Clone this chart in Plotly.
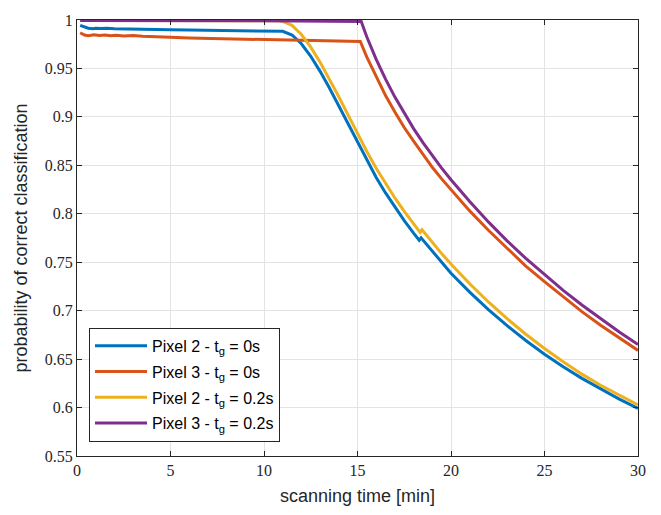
import plotly.graph_objects as go

# scanning time [min] and classification probability for each configuration
t_pix2_0 = [0.17, 0.35, 0.6, 0.85, 1.0, 1.3, 1.6, 2.0, 3.0, 4.0, 5.0, 6.0, 7.0, 8.0, 9.0, 10.0,
            10.5, 11.0, 11.5, 12.0, 12.5, 13.0, 13.5, 14.0, 14.5, 15.0, 15.5, 16.0, 16.5, 17.0,
            17.5, 18.0, 18.3, 18.4, 19.0, 19.5, 20.0, 21.0, 22.0, 23.0, 24.0, 25.0, 26.0, 27.0,
            28.0, 29.0, 30.0]
p_pix2_0 = [0.9945, 0.9935, 0.9915, 0.991, 0.9915, 0.9912, 0.9915, 0.991, 0.9905, 0.9903, 0.990,
            0.9898, 0.9895, 0.9893, 0.989, 0.9888, 0.9887, 0.9883,
            0.9845, 0.9755, 0.9625, 0.947, 0.9298, 0.9113, 0.8923, 0.8733, 0.8548, 0.8375, 0.8215,
            0.8068, 0.793, 0.780, 0.7727, 0.7752, 0.7611, 0.7496, 0.7386, 0.7191, 0.7011, 0.6845,
            0.6692, 0.6551, 0.6421, 0.6301, 0.619, 0.6087, 0.5991]

t_pix3_0 = [0.17, 0.4, 0.6, 0.9, 1.2, 1.5, 1.8, 2.1, 2.5, 3.0, 3.5, 4.0, 5.0, 6.0, 7.0, 8.0, 9.0,
            10.0, 11.0, 12.0, 13.0, 14.0, 15.15, 15.5, 16.0, 16.5, 17.0, 17.5, 18.0, 18.5, 19.0,
            19.5, 20.0, 21.0, 22.0, 23.0, 24.0, 25.0, 26.0, 27.0, 28.0, 29.0, 30.0]
p_pix3_0 = [0.9868, 0.9845, 0.9838, 0.9848, 0.984, 0.9845, 0.9838, 0.9843, 0.9836, 0.984, 0.9832,
            0.983, 0.9822, 0.9814, 0.981, 0.9805, 0.980, 0.9795, 0.979, 0.9787, 0.9785, 0.978,
            0.9778, 0.9617, 0.941, 0.922, 0.905, 0.889, 0.875, 0.861, 0.848, 0.836, 0.825, 0.803,
            0.783, 0.764, 0.746, 0.730, 0.714, 0.699, 0.685, 0.672, 0.659]

t_pix2_02 = [0.17, 5.0, 10.0, 10.8, 11.0, 11.5, 12.0, 12.5, 13.0, 13.5, 14.0, 14.5, 15.0, 15.5,
             16.0, 16.5, 17.0, 17.5, 18.0, 18.35, 18.45, 19.0, 19.5, 20.0, 21.0, 22.0, 23.0, 24.0,
             25.0, 26.0, 27.0, 28.0, 29.0, 30.0]
p_pix2_02 = [0.9995, 0.9995, 0.9994, 0.9993, 0.9985, 0.9945, 0.985, 0.972, 0.9565, 0.9393, 0.9208,
             0.9018, 0.8828, 0.8643, 0.847, 0.831, 0.8163, 0.8025, 0.7895, 0.7807, 0.7835, 0.7703,
             0.7589, 0.7481, 0.7278, 0.709, 0.6917, 0.6757, 0.6609, 0.6472, 0.6345, 0.623, 0.6125,
             0.6028]

t_pix3_02 = [0.17, 5.0, 10.0, 15.2, 15.5, 16.0, 16.5, 17.0, 17.5, 18.0, 18.5, 19.0, 19.5, 20.0,
             21.0, 22.0, 23.0, 24.0, 25.0, 26.0, 27.0, 28.0, 29.0, 30.0]
p_pix3_02 = [0.9995, 0.9994, 0.9992, 0.9984, 0.9824, 0.9594, 0.9389, 0.9204, 0.9034, 0.8879,
             0.8734, 0.8599, 0.8471, 0.8351, 0.8126, 0.7916, 0.7721, 0.7539, 0.7369, 0.7209,
             0.7058, 0.6915, 0.6779, 0.665]

series_names = ["Pixel 2 - t<sub>g</sub> = 0s", "Pixel 3 - t<sub>g</sub> = 0s",
                "Pixel 2 - t<sub>g</sub> = 0.2s", "Pixel 3 - t<sub>g</sub> = 0.2s"]
series_colors = ["#0072BD", "#D95319", "#EDB120", "#7E2F8E"]

x_ticks = [0, 5, 10, 15, 20, 25, 30]
y_ticks = [0.55, 0.6, 0.65, 0.7, 0.75, 0.8, 0.85, 0.9, 0.95, 1.0]
y_tick_text = ["0.55", "0.6", "0.65", "0.7", "0.75", "0.8", "0.85", "0.9", "0.95", "1"]

series = [(t_pix2_0, p_pix2_0), (t_pix3_0, p_pix3_0), (t_pix2_02, p_pix2_02), (t_pix3_02, p_pix3_02)]

fig = go.Figure()
for i, ((tx, py), name, color) in enumerate(zip(series, series_names, series_colors)):
    fig.add_trace(go.Scatter(x=tx, y=py, mode="lines", name=name, legendgroup=f"g{i}",
                             line=dict(color=color, width=3)))

axis_color = "#262626"
tick_font = dict(family="Liberation Serif, DejaVu Serif, serif", size=16, color=axis_color)
title_font = dict(family="Liberation Sans, Arial, sans-serif", size=18, color=axis_color)

fig.update_layout(
    width=661, height=515,
    margin=dict(l=77, r=23, t=16, b=57),
    paper_bgcolor="white", plot_bgcolor="white",
    showlegend=True,
    legend=dict(x=0.0214, y=0.294, xanchor="left", yanchor="top",
                bgcolor="white", bordercolor=axis_color, borderwidth=1,
                font=dict(family="Liberation Sans, Arial, sans-serif", size=16, color="#000000"),
                itemwidth=52, tracegroupgap=2),
)
fig.update_xaxes(
    range=[0, 30], tickvals=x_ticks, ticks="inside", ticklen=5, tickcolor=axis_color,
    showline=True, linecolor=axis_color, linewidth=1, mirror="ticks",
    showgrid=True, gridcolor="#e3e3e3", gridwidth=1, zeroline=False,
    tickfont=tick_font,
    title=dict(text="scanning time [min]", font=title_font, standoff=11),
)
fig.update_yaxes(
    range=[0.55, 1.0], tickvals=y_ticks, ticktext=y_tick_text, ticks="inside", ticklen=5,
    tickcolor=axis_color,
    showline=True, linecolor=axis_color, linewidth=1, mirror="ticks",
    showgrid=True, gridcolor="#e3e3e3", gridwidth=1, zeroline=False,
    tickfont=tick_font,
    title=dict(text="probability of correct classification", font=title_font, standoff=12),
)

fig.write_html("out.html")
